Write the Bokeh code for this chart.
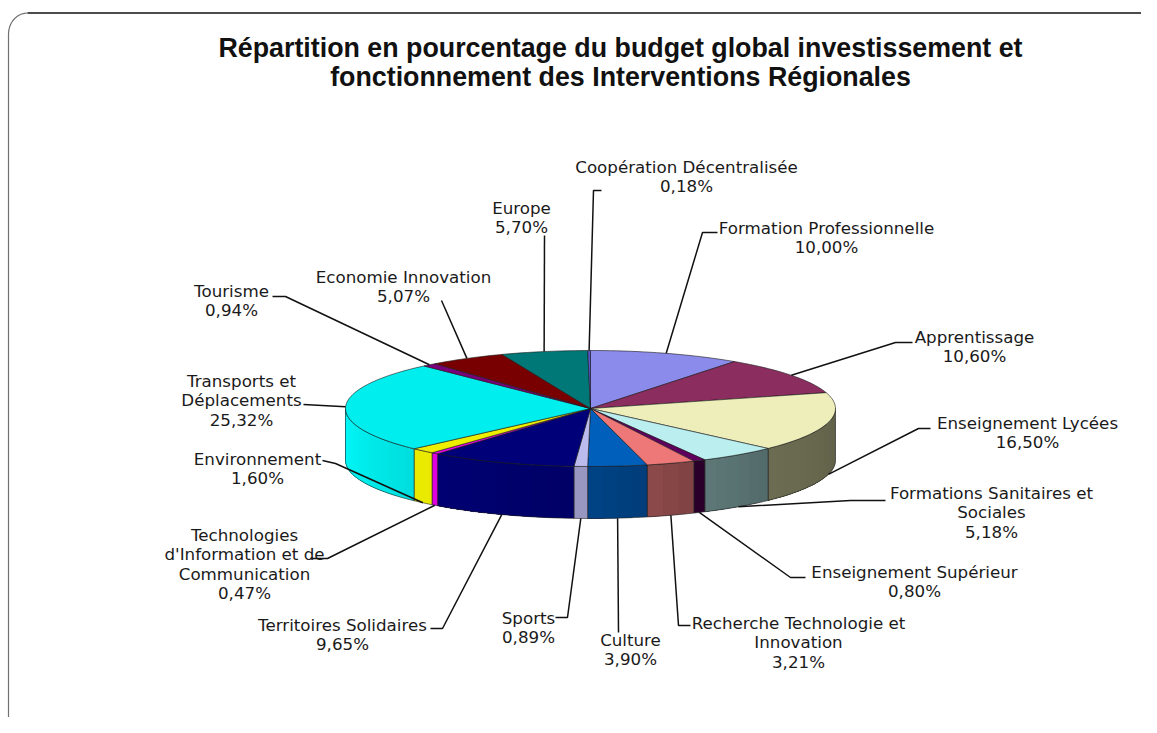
import math
from bokeh.plotting import figure
from bokeh.embed import file_html
from bokeh.resources import INLINE
from bokeh.core.properties import value

title_lines = ["Répartition en pourcentage du budget global investissement et",
               "fonctionnement des Interventions Régionales"]
categories = ["Formation Professionnelle", "Apprentissage", "Enseignement Lycées",
              "Formations Sanitaires et|Sociales", "Enseignement Supérieur",
              "Recherche Technologie et|Innovation", "Culture", "Sports",
              "Territoires Solidaires", "Technologies|d'Information et de|Communication",
              "Environnement", "Transports et|Déplacements", "Tourisme",
              "Economie Innovation", "Europe", "Coopération Décentralisée"]
values = [10.00, 10.60, 16.50, 5.18, 0.80, 3.21, 3.90, 0.89, 9.65, 0.47, 1.60, 25.32, 0.94, 5.07, 5.70, 0.18]
value_labels = ["10,00%", "10,60%", "16,50%", "5,18%", "0,80%", "3,21%", "3,90%", "0,89%",
                "9,65%", "0,47%", "1,60%", "25,32%", "0,94%", "5,07%", "5,70%", "0,18%"]
top_colors = ["#8B8BEB", "#8B2D5F", "#EEEEBB", "#BBEEEE", "#5F005F", "#EE7777", "#005FBB", "#BBBBEE",
              "#000078", "#EE00EE", "#EEEE00", "#00EEEE", "#780078", "#780000", "#007878", "#5555CC"]
wall_colors = ["#6F6FBC", "#6F244C", "#66664D", "#587070", "#2A002A", "#854646", "#00407F", "#9696C0",
               "#00006C", "#DD00DD", "#E8E800", "#00EAEA", "#600060", "#600000", "#006060", "#4444A0"]

# layout (pixels): label centre x, first line y, line step, leader start and elbow
label_x = [826, 974, 1027, 991, 914, 798, 630, 528, 342, 244, 257, 241, 231, 403, 521, 686]
label_y = [227, 336, 422, 492, 571, 622, 639, 617, 624, 534, 458, 380, 290, 276, 207, 166]
line_step = 19.5
leader = [[(717, 232), (702, 232)], [(912, 342), (895, 342)], [(930, 428), (918, 428)],
          [(885, 500), (850, 500)], [(805, 577), (790, 577)], [(690, 625), (678, 625)],
          [(618, 632)], [(555, 617), (567, 617)], [(430, 628), (442, 628)], [(310, 558), (327, 558)],
          [(322, 460), (335, 463)], [(303, 404)], [(272, 296), (285, 296)], [(441, 300)],
          [(544, 235)], [(601, 190), (593, 190)]]
CX, CY, RX, RY, DEPTH = 590, 408, 245, 58, 52

p = figure(width=1141, height=717, x_range=(0, 1141), y_range=(717, 0),
           output_backend="svg", toolbar_location=None, min_border=0)
p.axis.visible = False
p.grid.visible = False
p.outline_line_color = None
p.background_fill_color = "white"

def pt(a, d=0):
    r = math.radians(a)
    return CX + RX * math.sin(r), CY - RY * math.cos(r) + d

def shade(c, f):
    rgb = [int(c[i:i + 2], 16) for i in (1, 3, 5)]
    return "#%02x%02x%02x" % tuple(min(255, int(v * f)) for v in rgb)

# frame
arc = [(8 + 19 * (1 - math.cos(math.radians(t))), 12.5 + 21 * (1 - math.sin(math.radians(t)))) for t in range(0, 91, 10)]
p.line([8] + [q[0] for q in arc], [717] + [q[1] for q in arc], line_color="#707070", line_width=1.2)
p.line([arc[-1][0], 1141], [12.5, 12.5], line_color="#111111", line_width=1.3)

# title
for i, t in enumerate(title_lines):
    p.text([620], [47 + 29 * i], text=[t], text_align="center", text_baseline="middle",
           text_font=value("Liberation Sans"), text_font_style="bold", text_font_size="26.8px", text_color="#111111")

# slices
total = sum(values)
a0 = 0.0
angles = []
for v in values:
    angles.append((a0, a0 + v / total * 360))
    a0 += v / total * 360

def arc_poly(lo, hi, d0, d1):
    n = max(2, int((hi - lo) / 1.5))
    a = [lo + (hi - lo) * k / n for k in range(n + 1)]
    pts = [pt(x, d0) for x in a] + [pt(x, d1) for x in reversed(a)]
    return [q[0] for q in pts], [q[1] for q in pts]

# walls: painter's gradient, each band overdraws the rest of the face
for (s, e), c in zip(angles, wall_colors):
    lo, hi = max(s, 90), min(e, 270)
    if lo >= hi:
        continue
    n = max(1, int((hi - lo) / 3))
    step = (hi - lo) / n
    for k in range(n):
        f = 0.95 + 0.12 * (k + 0.5) / n
        xs, ys = arc_poly(lo + k * step, hi, 0, DEPTH)
        p.patch(xs, ys, fill_color=shade(c, f), line_color=None)
    xs, ys = arc_poly(lo, hi, 0, DEPTH)
    p.patch(xs, ys, fill_color=None, line_color="#222222", line_width=0.6)

# top faces
for (s, e), c in zip(angles, top_colors):
    n = max(2, int((e - s) / 1.5))
    xy = [(CX, CY)] + [pt(s + (e - s) * k / n) for k in range(n + 1)]
    p.patch([q[0] for q in xy], [q[1] for q in xy], fill_color=c, line_color="#1a1a1a", line_width=0.6)

# leaders and labels
for cat, lab, (s, e), lx, ly, pts in zip(categories, value_labels, angles, label_x, label_y, leader):
    mid = (s + e) / 2
    end = pt(mid, DEPTH if 90 < mid < 270 else 0)
    xs = [q[0] for q in pts] + [end[0]]
    ys = [q[1] for q in pts] + [end[1]]
    p.line(xs, ys, line_color="#111111", line_width=1.5)
    rows = cat.split("|") + [lab]
    for i, r in enumerate(rows):
        p.text([lx], [ly + line_step * i], text=[r], text_align="center", text_baseline="middle",
               text_font=value("DejaVu Sans"), text_font_size="16.7px", text_color="#1a1a1a")

open("out.html", "w").write(file_html(p, INLINE))
